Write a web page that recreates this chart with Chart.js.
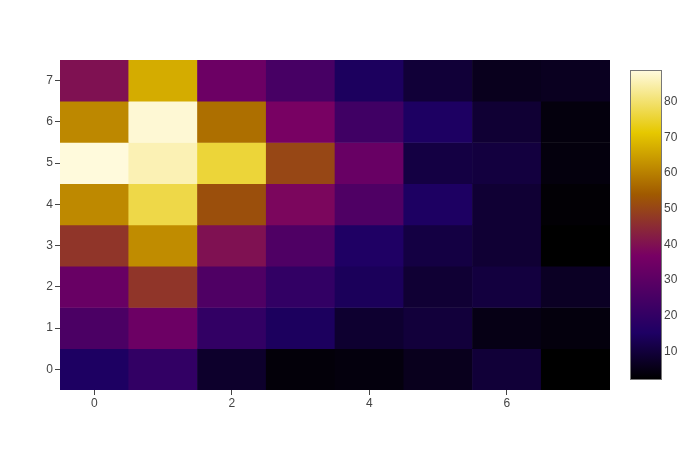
<!DOCTYPE html>
<html>
<head>
<meta charset="utf-8">
<script src="https://cdn.jsdelivr.net/npm/chart.js@4"></script>
<style>
  body { margin: 0; background: #fff; }
  #wrap { position: relative; width: 700px; height: 450px; }
  #heat { position: absolute; left: 0; top: 0; }
  #bar { position: absolute; left: 600px; top: 0; }
</style>
</head>
<body>
<div id="wrap">
  <canvas id="heat" width="700" height="450"></canvas>
  <canvas id="bar" width="100" height="450"></canvas>
</div>
<script>
// columns (x) and rows (y)
const xCats = [0, 1, 2, 3, 4, 5, 6, 7];
const yCats = [0, 1, 2, 3, 4, 5, 6, 7];
const xTicks = [0, 2, 4, 6];
const cbTicks = [10, 20, 30, 40, 50, 60, 70, 80];

// z values, one array per row, from y=0 (bottom) to y=7 (top)
const row0 = [15, 20, 8, 3.5, 4, 6, 9.5, 2.3];
const row1 = [26, 34, 20, 14.5, 8.5, 10, 5, 4];
const row2 = [33, 47, 27, 20, 14, 9, 10.5, 7];
const row3 = [47, 62, 40, 27, 15.5, 11, 9, 2.3];
const row4 = [61.5, 77, 52, 38, 27, 15, 9, 3];
const row5 = [88.6, 85.5, 75.8, 50.4, 33, 11, 10.5, 4];
const row6 = [61.3, 88, 57.4, 37, 23.5, 15, 9, 4];
const row7 = [40, 67, 34, 25, 14.5, 9.5, 6, 6.5];
const rows = [row0, row1, row2, row3, row4, row5, row6, row7];

const zmin = 2.3, zmax = 88.6;

// Electric colorscale
const scale = [
  [0, [0, 0, 0]],
  [0.15, [30, 0, 100]],
  [0.4, [120, 0, 100]],
  [0.6, [160, 90, 0]],
  [0.8, [230, 200, 0]],
  [1, [255, 250, 220]]
];

function colorFor(v) {
  let t = (v - zmin) / (zmax - zmin);
  t = Math.max(0, Math.min(1, t));
  for (let i = 1; i < scale.length; i++) {
    if (t <= scale[i][0]) {
      const a = scale[i - 1], b = scale[i];
      const f = (t - a[0]) / (b[0] - a[0]);
      const c = a[1].map((c0, k) => Math.round(c0 + (b[1][k] - c0) * f));
      return `rgb(${c[0]},${c[1]},${c[2]})`;
    }
  }
  return 'rgb(255,250,220)';
}

const font = { family: '"Liberation Sans", Arial, sans-serif', size: 12 };
const tickColor = '#444';

const points = [];
const colors = [];
yCats.forEach((r) => {
  xCats.forEach((c) => {
    points.push({ x: c, y: [r - 0.5, r + 0.5] });
    colors.push(colorFor(rows[r][c]));
  });
});

new Chart(document.getElementById('heat'), {
  type: 'bar',
  data: {
    datasets: [{
      data: points,
      backgroundColor: colors,
      borderWidth: 0,
      grouped: false,
      categoryPercentage: 1,
      barPercentage: 1
    }]
  },
  options: {
    responsive: false,
    animation: false,
    layout: { padding: { top: 60, right: 90, left: 0, bottom: 0 } },
    plugins: { legend: { display: false }, tooltip: { enabled: false } },
    scales: {
      x: {
        type: 'linear',
        min: -0.5,
        max: 7.5,
        offset: false,
        afterBuildTicks: (s) => { s.ticks = xTicks.map((v) => ({ value: v })); },
        afterFit: (s) => { s.height = 60; },
        ticks: { color: tickColor, font: font, padding: 1, maxRotation: 0 },
        grid: { offset: false, drawOnChartArea: false, tickLength: 5, tickWidth: 1, tickColor: tickColor },
        border: { display: false }
      },
      y: {
        min: -0.5,
        max: 7.5,
        afterBuildTicks: (s) => { s.ticks = yCats.map((v) => ({ value: v })); },
        afterFit: (s) => { s.width = 60; },
        ticks: { color: tickColor, font: font, padding: 2 },
        grid: { drawOnChartArea: false, tickLength: 5, tickWidth: 1, tickColor: tickColor },
        border: { display: false }
      }
    }
  }
});

// colorbar
const gradientPlugin = {
  id: 'gradientBar',
  beforeDraw(chart) {
    const { ctx, chartArea } = chart;
    const ys = chart.scales.y;
    const top = ys.getPixelForValue(zmax);
    const bottom = ys.getPixelForValue(zmin);
    const g = ctx.createLinearGradient(0, bottom, 0, top);
    scale.forEach(([p, c]) => g.addColorStop(p, `rgb(${c[0]},${c[1]},${c[2]})`));
    ctx.save();
    ctx.fillStyle = g;
    ctx.fillRect(chartArea.left, top, chartArea.right - chartArea.left, bottom - top);
    ctx.strokeStyle = '#777';
    ctx.lineWidth = 1;
    ctx.strokeRect(chartArea.left - 0.5, top - 0.5, chartArea.right - chartArea.left + 1, bottom - top + 1);
    ctx.restore();
  }
};

new Chart(document.getElementById('bar'), {
  type: 'scatter',
  data: { datasets: [{ data: [] }] },
  options: {
    responsive: false,
    animation: false,
    layout: { padding: { top: 71, bottom: 71, left: 31, right: 0 } },
    plugins: { legend: { display: false }, tooltip: { enabled: false } },
    scales: {
      x: { display: false },
      y: {
        type: 'linear',
        position: 'right',
        min: zmin,
        max: zmax,
        afterBuildTicks: (s) => { s.ticks = cbTicks.map((v) => ({ value: v })); },
        afterFit: (s) => { s.width = 39; },
        ticks: { color: tickColor, font: font, padding: 3 },
        grid: { display: false, drawTicks: false },
        border: { display: false }
      }
    }
  },
  plugins: [gradientPlugin]
});
</script>
</body>
</html>
